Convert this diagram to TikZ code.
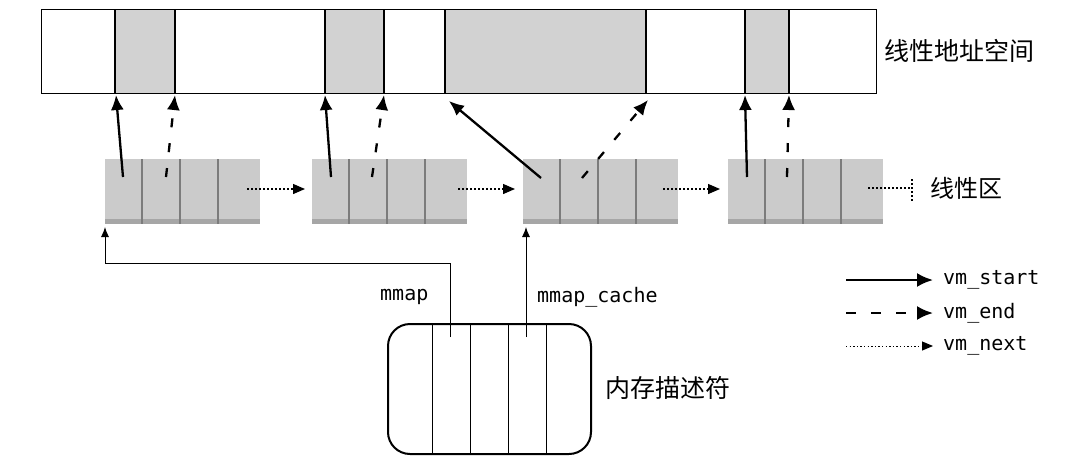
\documentclass[tikz,border=0pt]{standalone}
\usepackage{fontspec}
\newfontfamily\cjk{Noto Sans CJK SC}
\newfontfamily\monof{DejaVu Sans Mono}
\usetikzlibrary{arrows.meta}
\definecolor{bargray}{HTML}{D2D2D2}
\definecolor{areagray}{HTML}{CBCBCB}
\definecolor{areashadow}{HTML}{A6A6A6}
\definecolor{areadiv}{HTML}{7C7C7C}
\begin{document}
\begin{tikzpicture}[x=1pt,y=-1pt,
  barline/.style={draw=black,line width=1.4pt},
  areabox/.style={fill=areagray,draw=none,minimum width=155pt,minimum height=65pt,inner sep=0pt,anchor=north west},
  startarr/.style={line width=2.3pt,-{Latex[length=15pt,width=13pt]}},
  endarr/.style={line width=2.3pt,dash pattern=on 9pt off 16pt,-{Latex[length=15pt,width=13pt]}},
  nextarr/.style={line width=1.3pt,dash pattern=on 1.6pt off 2.4pt,-{Triangle[length=12pt,width=10pt]}},
  ptrarr/.style={line width=0.9pt,-{Latex[length=10pt,width=8pt]}},
  cjklabel/.style={font=\fontsize{25}{30}\selectfont\cjk,inner sep=0pt,anchor=west},
  monolabel/.style={font=\fontsize{20}{24}\selectfont\monof,inner sep=0pt,anchor=west},
]
\useasboundingbox (0,0) rectangle (1088,464);

% ---------- linear address space ----------
\fill[bargray] (115,9) rectangle (175,93);
\fill[bargray] (325,9) rectangle (384,93);
\fill[bargray] (445,9) rectangle (646,93);
\fill[bargray] (745,9) rectangle (789,93);
\node[barline,minimum width=835pt,minimum height=84pt,inner sep=0pt,anchor=north west] (bar) at (41,9) {};
\foreach \x in {115,175,325,384,445,646,745,789}
  \draw[line width=1.4pt] (\x,9) -- (\x,93);
\node[cjklabel] (lasp) at (884,51) {线性地址空间};

% ---------- memory areas ----------
\foreach \n/\x in {1/105,2/312,3/523,4/728}{
  \node[areabox] (A\n) at (\x,159) {};
  \fill[areashadow] (\x,219) rectangle ++(155,5);
  \foreach \d in {37,75,113}
    \draw[areadiv,line width=1.6pt] (\x+\d,159) -- (\x+\d,224);
}
\node[cjklabel,font=\fontsize{24}{28}\selectfont\cjk] (lreg) at (930,188) {线性区};

% arrow coordinates
\coordinate (s1t) at (123,177); \coordinate (s1h) at (116,95);
\coordinate (e1t) at (166,177); \coordinate (e1h) at (175,95);
\coordinate (s2t) at (331,177); \coordinate (s2h) at (325,95);
\coordinate (e2t) at (372,177); \coordinate (e2h) at (384,95);
\coordinate (s3t) at (541,178); \coordinate (s3h) at (449,101);
\coordinate (e3t) at (582,178); \coordinate (e3h) at (648,100);
\coordinate (s4t) at (747,177); \coordinate (s4h) at (745,95);
\coordinate (e4t) at (787,177); \coordinate (e4h) at (789,95);

\draw[startarr] (s1t) -- (s1h);
\draw[endarr]   (e1t) -- (e1h);
\draw[startarr] (s2t) -- (s2h);
\draw[endarr]   (e2t) -- (e2h);
\draw[startarr] (s3t) -- (s3h);
\draw[endarr]   (e3t) -- (e3h);
\draw[startarr] (s4t) -- (s4h);
\draw[endarr]   (e4t) -- (e4h);

% vm_next
\coordinate (n1) at (247,189); \coordinate (n2) at (305,189);
\coordinate (n3) at (458,189); \coordinate (n4) at (515,189);
\coordinate (n5) at (663,189); \coordinate (n6) at (720,189);
\draw[nextarr] (n1) -- (n2);
\draw[nextarr] (n3) -- (n4);
\draw[nextarr] (n5) -- (n6);
\coordinate (lr1) at (868,188); \coordinate (lr2) at (912,188);
\draw[line width=1.2pt,dash pattern=on 1.6pt off 2.4pt] (lr1) -- (lr2);
\draw[line width=1.2pt,dash pattern=on 1.6pt off 2.4pt] (912,179) -- (912,202);

% ---------- memory descriptor ----------
\node[draw,line width=2pt,rounded corners=22pt,minimum width=203pt,minimum height=130pt,inner sep=0pt,anchor=north west] (mm) at (387,323) {};
\foreach \x in {432,470,508,546}
  \draw[line width=0.9pt] (\x,323) -- (\x,453);
\node[cjklabel] (mdesc) at (605,388) {内存描述符};

\coordinate (mmapsrc) at (450,337);
\coordinate (mmapbend) at (105,263);
\coordinate (mmaptip) at (105,227);
\draw[ptrarr] (mmapsrc) |- (mmapbend) -- (mmaptip);
\coordinate (cachesrc) at (526,337);
\coordinate (cachetip) at (526,227);
\draw[ptrarr] (cachesrc) -- (cachetip);
\node[monolabel] (lmmap) at (380,297) {mmap};
\node[monolabel] (lcache) at (537,297) {mmap\_cache};

% ---------- legend ----------
\coordinate (g1a) at (846,280); \coordinate (g1b) at (933,280);
\coordinate (g2a) at (846,313); \coordinate (g2b) at (933,313);
\coordinate (g3a) at (846,346); \coordinate (g3b) at (933,346);
\draw[line width=2.3pt,-{Latex[length=16pt,width=14pt]}] (g1a) -- (g1b);
\draw[line width=2.3pt,dash pattern=on 10pt off 15pt,-{Latex[length=16pt,width=14pt]}] (g2a) -- (g2b);
\draw[line width=1pt,dash pattern=on 1.4pt off 2.2pt,-{Triangle[length=11pt,width=9pt]}] (g3a) -- (g3b);
\node[monolabel] (lg1) at (943,280) {vm\_start};
\node[monolabel] (lg2) at (943,313) {vm\_end};
\node[monolabel] (lg3) at (943,346) {vm\_next};
\end{tikzpicture}
\end{document}
